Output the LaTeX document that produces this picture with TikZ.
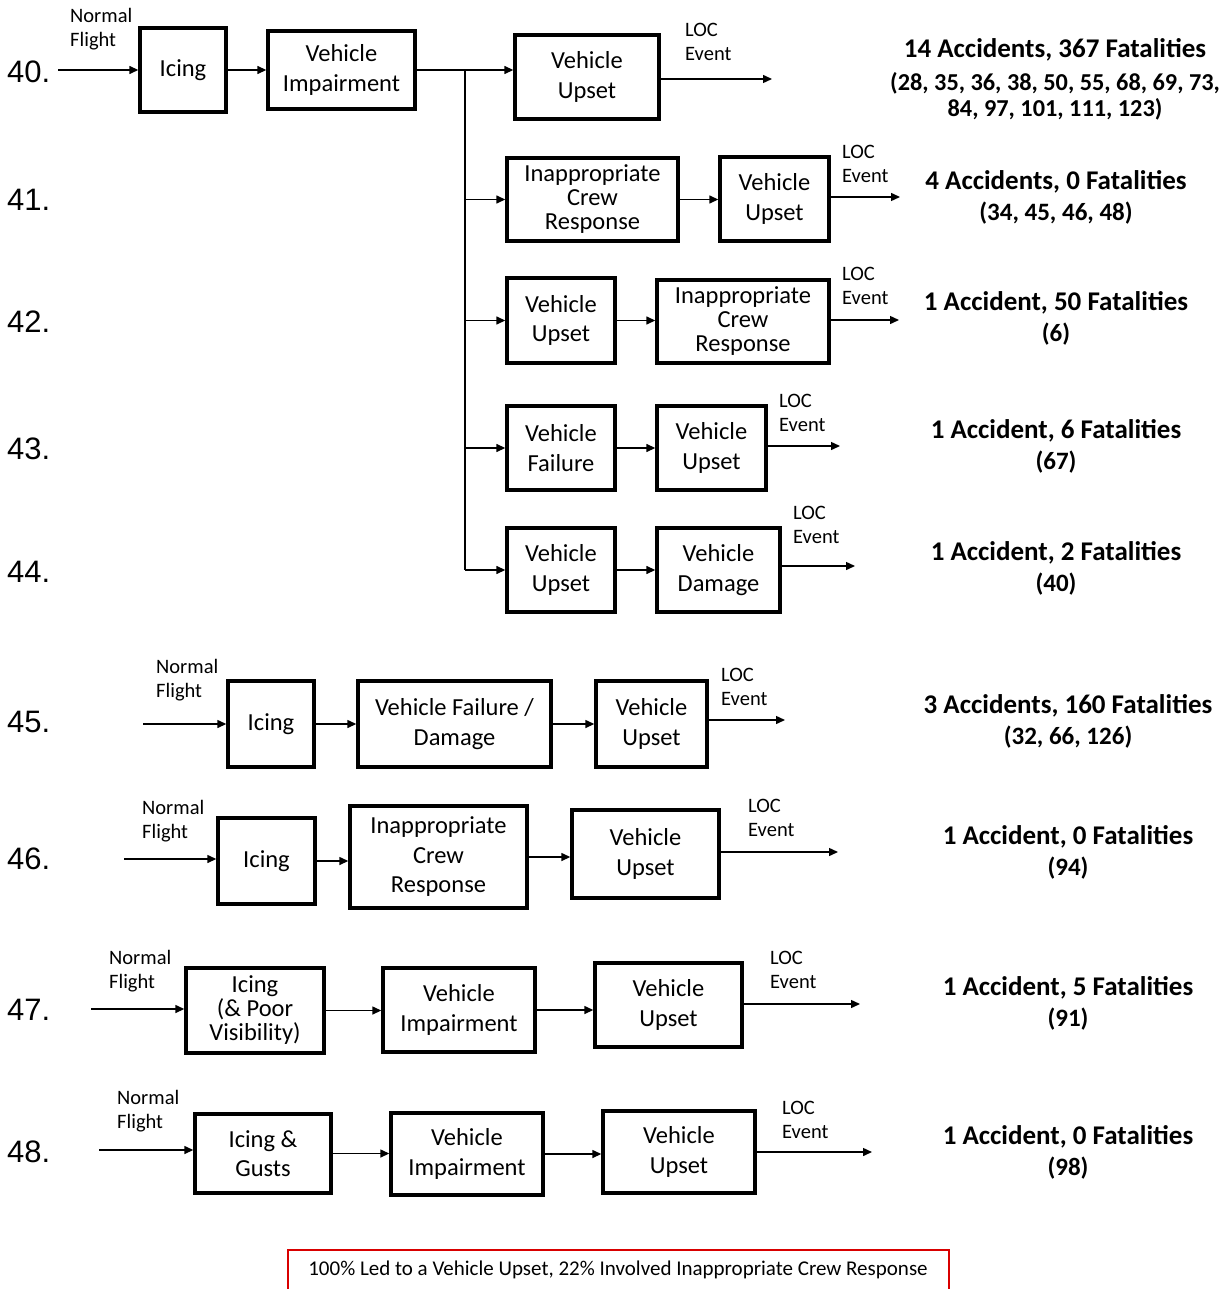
\documentclass[tikz,border=0pt]{standalone}
\usepackage{fontspec}
\setmainfont{Carlito}
\newfontfamily\arialfont{Liberation Sans}
\usetikzlibrary{arrows.meta}

\newcommand\blkfont{\fontsize{24.5}{29.5}\selectfont}
\newcommand\tightfont{\fontsize{24.5}{24}\selectfont}
\newcommand\lblfont{\fontsize{20.5}{24.5}\selectfont}
\newcommand\resfont{\fontsize{27}{31}\selectfont\bfseries}
\newcommand\refsfont{\fontsize{25}{26}\selectfont}
\newcommand\numfont{\arialfont\fontsize{31}{34}\selectfont}
\newcommand\notefont{\fontsize{21}{24}\selectfont}

\tikzset{
  blk/.style={draw, line width=3.4pt, align=center, inner sep=0pt},
  tight/.style={font=\tightfont},
  flow/.style={line width=1.4pt, -{Triangle[length=9pt,width=8pt]}},
  lbl/.style={anchor=west, align=left, inner sep=0pt, font=\lblfont},
  res/.style={align=center, inner sep=0pt, font=\resfont},
  num/.style={anchor=west, inner sep=0pt, font=\numfont}
}

\begin{document}
\begin{tikzpicture}[x=1pt,y=-1pt,font=\blkfont]
  \useasboundingbox (0,0) rectangle (1231,1289);

  % row 40 and its branches
  \node[num]  (n40) at (7,72) {40.};
  \node[lbl]  (nf40) at (70,29) {Normal\\Flight};
  \coordinate (s40) at (58,70);
  \node[blk, minimum width=86, minimum height=84]  (a40) at (183,70) {Icing};
  \node[blk, minimum width=147, minimum height=78] (b40) at (341.5,70) {Vehicle\\Impairment};
  \node[blk, minimum width=144, minimum height=84] (c40) at (587,77) {Vehicle\\Upset};
  \coordinate (J) at (465,70);
  \node[lbl]  (loc40) at (685,42) {LOC\\Event};
  \coordinate (e40) at (772,79);
  \node[res]  (res40) at (1055,79) {14 Accidents, 367 Fatalities\\[2pt]
    {\fontsize{24.3}{26}\selectfont (28, 35, 36, 38, 50, 55, 68, 69, 73,}\\[-5pt]
    {\fontsize{24.3}{26}\selectfont 84, 97, 101, 111, 123)}};

  \node[num]  (n41) at (7,200) {41.};
  \node[blk, tight, minimum width=171, minimum height=83] (a41) at (592.5,199.5) {Inappropriate\\Crew\\Response};
  \node[blk, minimum width=109, minimum height=84] (b41) at (774.5,199) {Vehicle\\Upset};
  \node[lbl]  (loc41) at (842,164) {LOC\\Event};
  \coordinate (e41) at (900,197);
  \node[res]  (res41) at (1056,197) {4 Accidents, 0 Fatalities\\{\refsfont\bfseries (34, 45, 46, 48)}};

  \node[num]  (n42) at (7,322) {42.};
  \node[blk, minimum width=108, minimum height=85] (a42) at (561,320.5) {Vehicle\\Upset};
  \node[blk, tight, minimum width=172, minimum height=83] (b42) at (743,321.5) {Inappropriate\\Crew\\Response};
  \node[lbl]  (loc42) at (842,286) {LOC\\Event};
  \coordinate (e42) at (899,320);
  \node[res]  (res42) at (1056,318) {1 Accident, 50 Fatalities\\{\refsfont\bfseries (6)}};

  \node[num]  (n43) at (7,449) {43.};
  \node[blk, minimum width=108, minimum height=84] (a43) at (561,448) {Vehicle\\Failure};
  \node[blk, minimum width=109, minimum height=84] (b43) at (711.5,448) {Vehicle\\Upset};
  \node[lbl]  (loc43) at (779,413) {LOC\\Event};
  \coordinate (e43) at (840,446);
  \node[res]  (res43) at (1056,446) {1 Accident, 6 Fatalities\\{\refsfont\bfseries (67)}};

  \node[num]  (n44) at (7,572) {44.};
  \node[blk, minimum width=108, minimum height=84] (a44) at (561,570) {Vehicle\\Upset};
  \node[blk, minimum width=123, minimum height=84] (b44) at (718.5,570) {Vehicle\\Damage};
  \node[lbl]  (loc44) at (793,525) {LOC\\Event};
  \coordinate (e44) at (855,566);
  \node[res]  (res44) at (1056,568) {1 Accident, 2 Fatalities\\{\refsfont\bfseries (40)}};

  \draw[flow] (s40) -- (s40 -| a40.west);
  \draw[flow] (a40.east) -- (a40.east -| b40.west);
  \draw[flow] (b40.east) -- (b40.east -| c40.west);
  \draw[line width=1.4pt] (J) -- (J |- a44.west);
  \draw[flow] (c40.east |- e40) -- (e40);
  \foreach \r in {41,42,43,44} {
    \draw[flow] (J |- a\r.west) -- (a\r.west);
    \draw[flow] (a\r.east) -- (a\r.east -| b\r.west);
    \draw[flow] (b\r.east |- e\r) -- (e\r);
  }

  % rows 45 to 48
  \node[num]  (n45) at (7,722) {45.};
  \node[lbl]  (nf45) at (156,680) {Normal\\Flight};
  \coordinate (s45) at (143,724);
  \node[blk, minimum width=86, minimum height=86]  (a45) at (271,724) {Icing};
  \node[blk, minimum width=193, minimum height=86] (b45) at (454.5,724) {Vehicle Failure /\\Damage};
  \node[blk, minimum width=111, minimum height=86] (c45) at (651.5,724) {Vehicle\\Upset};
  \node[lbl]  (loc45) at (721,687) {LOC\\Event};
  \coordinate (e45) at (785,720);
  \node[res]  (res45) at (1068,721) {3 Accidents, 160 Fatalities\\{\refsfont\bfseries (32, 66, 126)}};

  \node[num]  (n46) at (7,859) {46.};
  \node[lbl]  (nf46) at (142,821) {Normal\\Flight};
  \coordinate (s46) at (124,859);
  \node[blk, minimum width=97, minimum height=86]   (a46) at (266.5,861) {Icing};
  \node[blk, minimum width=177, minimum height=102] (b46) at (438.5,857) {Inappropriate\\Crew\\Response};
  \node[blk, minimum width=147, minimum height=88]  (c46) at (645.5,854) {Vehicle\\Upset};
  \node[lbl]  (loc46) at (748,818) {LOC\\Event};
  \coordinate (e46) at (838,852);
  \node[res]  (res46) at (1068,852) {1 Accident, 0 Fatalities\\{\refsfont\bfseries (94)}};

  \node[num]  (n47) at (7,1010) {47.};
  \node[lbl]  (nf47) at (109,971) {Normal\\Flight};
  \coordinate (s47) at (91,1009);
  \node[blk, tight, minimum width=138, minimum height=85] (a47) at (255,1010.5) {Icing\\(\& Poor\\Visibility)};
  \node[blk, minimum width=152, minimum height=84] (b47) at (459,1010) {Vehicle\\Impairment};
  \node[blk, minimum width=147, minimum height=84] (c47) at (668.5,1005) {Vehicle\\Upset};
  \node[lbl]  (loc47) at (770,970) {LOC\\Event};
  \coordinate (e47) at (860,1004);
  \node[res]  (res47) at (1068,1003) {1 Accident, 5 Fatalities\\{\refsfont\bfseries (91)}};

  \node[num]  (n48) at (7,1152) {48.};
  \node[lbl]  (nf48) at (117,1111) {Normal\\Flight};
  \coordinate (s48) at (99,1150);
  \node[blk, minimum width=136, minimum height=79] (a48) at (263,1153.5) {Icing \&\\Gusts};
  \node[blk, minimum width=152, minimum height=82] (b48) at (467,1154) {Vehicle\\Impairment};
  \node[blk, minimum width=152, minimum height=82] (c48) at (679,1152) {Vehicle\\Upset};
  \node[lbl]  (loc48) at (782,1120) {LOC\\Event};
  \coordinate (e48) at (872,1152);
  \node[res]  (res48) at (1068,1152) {1 Accident, 0 Fatalities\\{\refsfont\bfseries (98)}};

  \foreach \r in {45,46,47,48} {
    \draw[flow] (s\r) -- (s\r -| a\r.west);
    \draw[flow] (a\r.east) -- (a\r.east -| b\r.west);
    \draw[flow] (b\r.east) -- (b\r.east -| c\r.west);
    \draw[flow] (c\r.east |- e\r) -- (e\r);
  }

  % summary note
  \draw[red!85!black, line width=1.3pt] (288,1295) rectangle (949,1250);
  \node[font=\notefont, inner sep=0pt] (note) at (618,1270) {100\% Led to a Vehicle Upset, 22\% Involved Inappropriate Crew Response};
\end{tikzpicture}
\end{document}
